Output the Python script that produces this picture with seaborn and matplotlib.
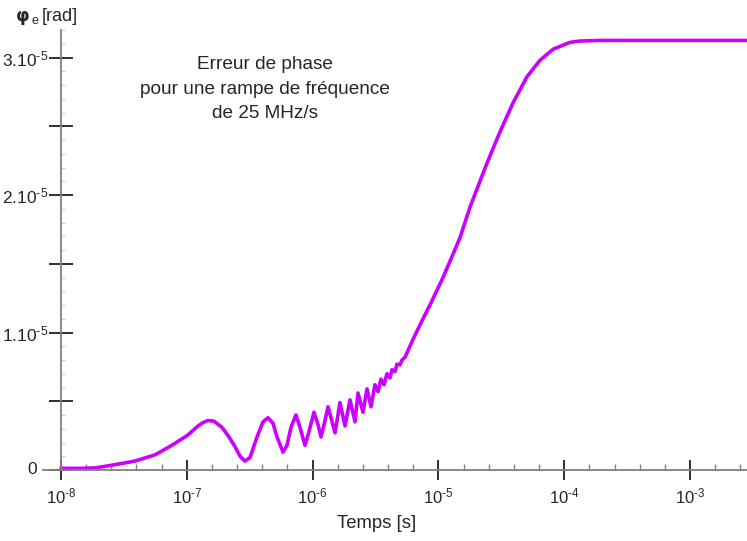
import numpy as np
import pandas as pd
import matplotlib
matplotlib.use("Agg")
import matplotlib.pyplot as plt
import seaborn as sns
from matplotlib.ticker import FixedLocator, NullFormatter, FixedFormatter

# Data (time in s, phase error in units of 1e-5 rad)
time_s = [
    1.00e-8, 1.416e-8, 1.864e-8, 2.543e-8, 3.875e-8, 5.587e-8, 7.627e-8,
    1.022e-7, 1.227e-7, 1.345e-7, 1.474e-7, 1.645e-7, 1.905e-7, 2.166e-7,
    2.416e-7, 2.648e-7, 2.901e-7, 3.179e-7, 3.614e-7, 4.034e-7, 4.42e-7,
    4.844e-7, 5.212e-7, 5.818e-7, 6.258e-7, 6.733e-7, 7.379e-7, 7.938e-7,
    8.70e-7, 9.363e-7, 1.026e-6, 1.104e-6, 1.166e-6, 1.255e-6, 1.326e-6,
    1.401e-6, 1.507e-6, 1.651e-6, 1.810e-6, 1.983e-6, 2.173e-6, 2.296e-6,
    2.515e-6, 2.706e-6, 2.912e-6, 3.133e-6, 3.311e-6, 3.498e-6, 3.695e-6,
    3.903e-6, 4.124e-6, 4.278e-6, 4.519e-6, 4.688e-6, 4.952e-6, 5.137e-6,
    5.427e-6, 6.283e-6, 7.54e-6, 8.57e-6, 1.088e-5, 1.28e-5, 1.485e-5,
    1.78e-5, 2.14e-5, 2.43e-5, 3.09e-5, 3.92e-5, 5.06e-5, 6.42e-5,
    8.15e-5, 1.11e-4, 1.34e-4, 1.93e-4, 5.0e-4, 1.0e-3, 2.84e-3,
]
phase_err = [
    0.012, 0.012, 0.015, 0.035, 0.065, 0.11, 0.18,
    0.255, 0.32, 0.345, 0.36, 0.355, 0.31, 0.24,
    0.17, 0.10, 0.065, 0.09, 0.24, 0.35, 0.38,
    0.34, 0.24, 0.13, 0.18, 0.31, 0.40, 0.31,
    0.18, 0.28, 0.42, 0.33, 0.24, 0.36, 0.46,
    0.38, 0.27, 0.49, 0.32, 0.51, 0.35, 0.56,
    0.42, 0.59, 0.46, 0.62, 0.57, 0.66, 0.62,
    0.70, 0.67, 0.73, 0.715, 0.77, 0.765, 0.80,
    0.82, 0.95, 1.10, 1.20, 1.40, 1.55, 1.69,
    1.91, 2.10, 2.23, 2.46, 2.67, 2.86, 2.98,
    3.06, 3.11, 3.12, 3.124, 3.124, 3.124, 3.124,
]

x_major = [1e-8, 1e-7, 1e-6, 1e-5, 1e-4, 1e-3]
x_labels = [r"10$^{\text{-8}}$", r"10$^{\text{-7}}$", r"10$^{\text{-6}}$",
            r"10$^{\text{-5}}$", r"10$^{\text{-4}}$", r"10$^{\text{-3}}$"]
y_major = [0, 0.5e-5, 1e-5, 1.5e-5, 2e-5, 2.5e-5, 3e-5]
y_labels = ["", "", r"1.10$^{\text{-5}}$", "", r"2.10$^{\text{-5}}$", "",
            r"3.10$^{\text{-5}}$"]

df = pd.DataFrame({"t": time_s, "phi": np.array(phase_err) * 1e-5})

sns.set_style("white")
plt.rcParams["font.family"] = ["Liberation Sans", "DejaVu Sans"]
plt.rcParams["mathtext.fontset"] = "custom"
plt.rcParams["mathtext.rm"] = "Liberation Sans"
plt.rcParams["mathtext.it"] = "Liberation Sans:italic"
plt.rcParams["mathtext.bf"] = "Liberation Sans:bold"

fig = plt.figure(figsize=(7.47, 5.41), dpi=100)
ax = fig.add_axes([43 / 747, 1 - 470 / 541, 1 - 43 / 747, 440 / 541])

sns.lineplot(ax=ax, data=df, x="t", y="phi", color="#cc00ff", linewidth=2.6,
             solid_joinstyle="round", clip_on=False)

ax.set_xscale("log")
ax.set_xlim(10 ** (-8 - 18 / 125.8), 10 ** (-3 + 57 / 125.8))
ax.set_ylim(0, 3.2e-5)

for side in ["top", "right"]:
    ax.spines[side].set_visible(False)
ax.spines["left"].set_position(("data", 1e-8))
for side in ["left", "bottom"]:
    ax.spines[side].set_color("#808080")
    ax.spines[side].set_linewidth(1.3)

# minor x ticks every 0.2 decade, minor y ticks every 0.1e-5
x_minor = [10.0 ** (d + f) for d in range(-8, -2) for f in (0.2, 0.4, 0.6, 0.8)]
y_minor = [k * 1e-6 for k in range(33) if k % 5 != 0]

ax.xaxis.set_major_locator(FixedLocator(x_major))
ax.xaxis.set_major_formatter(FixedFormatter(x_labels))
ax.xaxis.set_minor_locator(FixedLocator(x_minor))
ax.xaxis.set_minor_formatter(NullFormatter())
ax.yaxis.set_major_locator(FixedLocator(y_major))
ax.yaxis.set_major_formatter(FixedFormatter(y_labels))
ax.yaxis.set_minor_locator(FixedLocator(y_minor))
ax.yaxis.set_minor_formatter(NullFormatter())

ax.tick_params(axis="x", which="major", direction="inout", length=14, width=1.4,
               color="#303030", labelsize=12, pad=5, bottom=True)
ax.tick_params(axis="x", which="minor", direction="in", length=4, width=1,
               color="#808080", bottom=True)
ax.tick_params(axis="y", which="major", direction="inout", length=17, width=1.4,
               color="#303030", labelsize=12.5, pad=1, left=True)
ax.tick_params(axis="y", which="minor", direction="in", length=3, width=0.8,
               color="#cfcfcf", left=True)

ax.set_xlabel("")
ax.set_ylabel("")
# "0" sits further left than the other y labels
fig.text(32 / 747, 1 - 470 / 541, "0", ha="center", va="center", fontsize=12.5)
fig.text(377 / 747, 1 - 523 / 541, "Temps [s]", ha="center", va="center", fontsize=13.3)

# y-axis label: bold phi with subscript e
fig.text(16 / 747, 1 - 21 / 541, "φ", fontsize=12.5, fontweight="bold",
         family="DejaVu Sans", ha="left", va="baseline")
fig.text(32 / 747, 1 - 24 / 541, "e", fontsize=9, ha="left", va="baseline")
fig.text(42 / 747, 1 - 21 / 541, "[rad]", fontsize=13, ha="left", va="baseline")

ax.text((265 - 43) / 704, 1 - (89 - 30) / 440,
        "Erreur de phase\npour une rampe de fréquence\nde 25 MHz/s",
        transform=ax.transAxes, ha="center", va="center", fontsize=13.7,
        linespacing=1.55)

fig.savefig("out.png", dpi=100)
